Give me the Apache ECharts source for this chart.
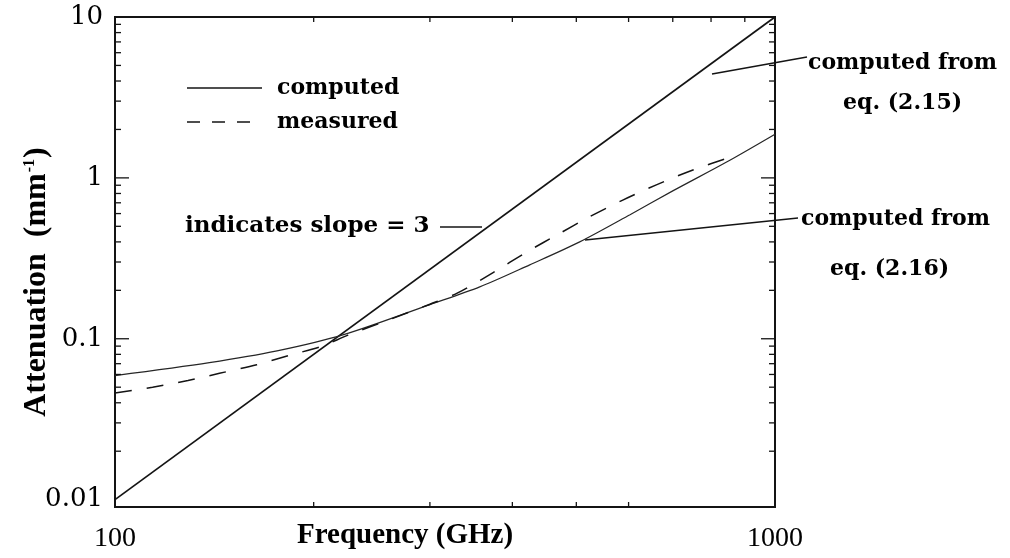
<!DOCTYPE html>
<html>
<head>
<meta charset="utf-8">
<script src="https://cdn.jsdelivr.net/npm/echarts@6/dist/echarts.min.js"></script>
<style>
  html, body { margin: 0; padding: 0; background: #fff; }
  #chart { width: 1010px; height: 558px; }
</style>
</head>
<body>
<div id="chart"></div>
<script>
// Attenuation (mm^-1) versus frequency (GHz), log-log.

// computed from eq. (2.15): straight line of slope 3
const eq215 = [[100, 0.01], [1000, 10]];

// computed from eq. (2.16)
const eq216Freq = [100, 139, 176, 222, 300, 357, 425, 506, 603, 700, 846, 1000];
const eq216Att  = [0.059, 0.071, 0.084, 0.106, 0.163, 0.210, 0.288, 0.400, 0.590, 0.830, 1.26, 1.87];

// measured
const measFreq = [100, 114, 129, 144, 164, 184, 206, 225, 260, 300, 330, 374, 421, 472, 518, 588, 661, 751, 872];
const measAtt  = [0.046, 0.050, 0.055, 0.061, 0.069, 0.079, 0.090, 0.105, 0.131, 0.164, 0.192, 0.258, 0.347, 0.452, 0.560, 0.728, 0.905, 1.12, 1.38];

// axis ticks and labels
const xLabels = [100, 1000];
const xTopTicks = [200, 300, 400, 500, 600, 700, 800, 900];
const xBottomTicks = [200, 300, 400, 500, 600];
const yLabelValues = [0.01, 0.1, 1, 10];
const yLabelText = ['0.01', '0.1', '1', '10'];
const yMajorTicks = [0.1, 1];
const yMinorTicks = [0.02, 0.03, 0.04, 0.05, 0.06, 0.07, 0.08, 0.09,
                     0.2, 0.3, 0.4, 0.5, 0.6, 0.7, 0.8, 0.9,
                     2, 3, 4, 5, 6, 7, 8, 9];

const X_MIN = 100, X_MAX = 1000, Y_MIN = 0.009, Y_MAX = 10;
const INK = '#141414';
const SERIF = 'Liberation Serif';
const WIDE_SERIF = 'DejaVu Serif';

function zip(a, b) { return a.map((v, i) => [v, b[i]]); }

// tick records: [x, y, length, side]  side 0=left 1=right 2=top 3=bottom
const tickData = [];
yMinorTicks.forEach(v => { tickData.push([X_MIN, v, 6, 0]); tickData.push([X_MAX, v, 6, 1]); });
yMajorTicks.forEach(v => { tickData.push([X_MIN, v, 14, 0]); tickData.push([X_MAX, v, 14, 1]); });
xTopTicks.forEach(v => tickData.push([v, Y_MAX, 5, 2]));
xBottomTicks.forEach(v => tickData.push([v, Y_MIN, 5, 3]));

function renderTick(params, api) {
  const p = api.coord([api.value(0), api.value(1)]);
  const len = api.value(2), side = api.value(3);
  let x2 = p[0], y2 = p[1];
  if (side === 0) x2 += len;
  else if (side === 1) x2 -= len;
  else if (side === 2) y2 += len;
  else y2 -= len;
  return {
    type: 'line',
    shape: { x1: p[0], y1: p[1], x2: x2, y2: y2 },
    style: { stroke: INK, lineWidth: 1.3 }
  };
}

function renderYLabel(params, api) {
  const p = api.coord([api.value(0), api.value(1)]);
  return {
    type: 'text',
    x: p[0] - 12,
    y: p[1],
    style: {
      text: yLabelText[params.dataIndex],
      font: '26px "' + WIDE_SERIF + '"',
      fill: '#000',
      align: 'right',
      verticalAlign: 'middle'
    }
  };
}

const chart = echarts.init(document.getElementById('chart'), null, { renderer: 'canvas' });

chart.setOption({
  backgroundColor: '#fff',
  animation: false,
  grid: {
    left: 115, top: 17, width: 660, height: 490,
    containLabel: false,
    outerBoundsMode: 'none',
    show: true, borderColor: INK, borderWidth: 2, backgroundColor: 'transparent'
  },
  xAxis: {
    type: 'log', logBase: 10, min: X_MIN, max: X_MAX,
    axisLine: { show: false },
    axisTick: { show: false },
    splitLine: { show: false },
    minorTick: { show: false },
    axisLabel: {
      margin: 18,
      color: '#000',
      fontFamily: SERIF,
      fontSize: 28,
      formatter: v => (xLabels.indexOf(Math.round(v)) >= 0 ? String(Math.round(v)) : '')
    }
  },
  yAxis: {
    type: 'log', logBase: 10, min: Y_MIN, max: Y_MAX,
    axisLine: { show: false },
    axisTick: { show: false },
    splitLine: { show: false },
    axisLabel: { show: false }
  },
  series: [
    {
      name: 'eq. (2.15)', type: 'line', data: eq215,
      showSymbol: false, symbol: 'none',
      lineStyle: { color: INK, width: 1.7 }
    },
    {
      name: 'eq. (2.16)', type: 'line', data: zip(eq216Freq, eq216Att),
      showSymbol: false, symbol: 'none', smooth: 0.3,
      lineStyle: { color: '#262626', width: 1.2 }
    },
    {
      name: 'measured', type: 'line', data: zip(measFreq, measAtt),
      showSymbol: false, symbol: 'none', smooth: 0.3,
      lineStyle: { color: INK, width: 1.5, type: [17, 15] }
    },
    {
      name: 'ticks', type: 'custom', renderItem: renderTick,
      data: tickData, silent: true, clip: false, z: 5
    },
    {
      name: 'yLabels', type: 'custom', renderItem: renderYLabel,
      data: yLabelValues.map(v => [X_MIN, v]), silent: true, clip: false
    }
  ],
  graphic: [
    // axis titles
    {
      type: 'text', x: 405, y: 536,
      style: {
        text: 'Frequency (GHz)', font: 'bold 29px "' + SERIF + '"',
        fill: '#000', align: 'center', verticalAlign: 'middle'
      }
    },
    {
      type: 'text', x: 37, y: 282, rotation: Math.PI / 2,
      style: {
        text: '{a|Attenuation  (mm}{s|-1}{a|)}',
        align: 'center', verticalAlign: 'middle',
        rich: {
          a: { font: 'bold 32px "' + SERIF + '"', fill: '#000' },
          s: { font: 'bold 16px "' + SERIF + '"', fill: '#000', padding: [0, 1, 15, 1] }
        }
      }
    },
    // legend
    { type: 'line', shape: { x1: 187, y1: 88, x2: 262, y2: 88 }, style: { stroke: INK, lineWidth: 1.6 } },
    { type: 'line', shape: { x1: 187, y1: 122, x2: 262, y2: 122 }, style: { stroke: INK, lineWidth: 1.6, lineDash: [13, 12] } },
    {
      type: 'text', x: 277, y: 88,
      style: { text: 'computed', font: 'bold 22px "' + WIDE_SERIF + '"', fill: '#000', verticalAlign: 'middle' }
    },
    {
      type: 'text', x: 277, y: 122,
      style: { text: 'measured', font: 'bold 22px "' + WIDE_SERIF + '"', fill: '#000', verticalAlign: 'middle' }
    },
    // slope note
    {
      type: 'text', x: 185, y: 226,
      style: { text: 'indicates slope = 3', font: 'bold 23px "' + WIDE_SERIF + '"', fill: '#000', verticalAlign: 'middle' }
    },
    { type: 'line', shape: { x1: 440, y1: 227, x2: 482, y2: 227 }, style: { stroke: INK, lineWidth: 1.5 } },
    // eq. (2.15) note
    { type: 'line', shape: { x1: 712, y1: 74, x2: 807, y2: 57 }, style: { stroke: INK, lineWidth: 1.5 } },
    {
      type: 'text', x: 808, y: 63,
      style: { text: 'computed from', font: 'bold 22px "' + WIDE_SERIF + '"', fill: '#000', verticalAlign: 'middle' }
    },
    {
      type: 'text', x: 843, y: 103,
      style: { text: 'eq. (2.15)', font: 'bold 22px "' + WIDE_SERIF + '"', fill: '#000', verticalAlign: 'middle' }
    },
    // eq. (2.16) note
    { type: 'line', shape: { x1: 585, y1: 240, x2: 798, y2: 218 }, style: { stroke: INK, lineWidth: 1.5 } },
    {
      type: 'text', x: 801, y: 219,
      style: { text: 'computed from', font: 'bold 22px "' + WIDE_SERIF + '"', fill: '#000', verticalAlign: 'middle' }
    },
    {
      type: 'text', x: 830, y: 269,
      style: { text: 'eq. (2.16)', font: 'bold 22px "' + WIDE_SERIF + '"', fill: '#000', verticalAlign: 'middle' }
    }
  ]
});
</script>
</body>
</html>
